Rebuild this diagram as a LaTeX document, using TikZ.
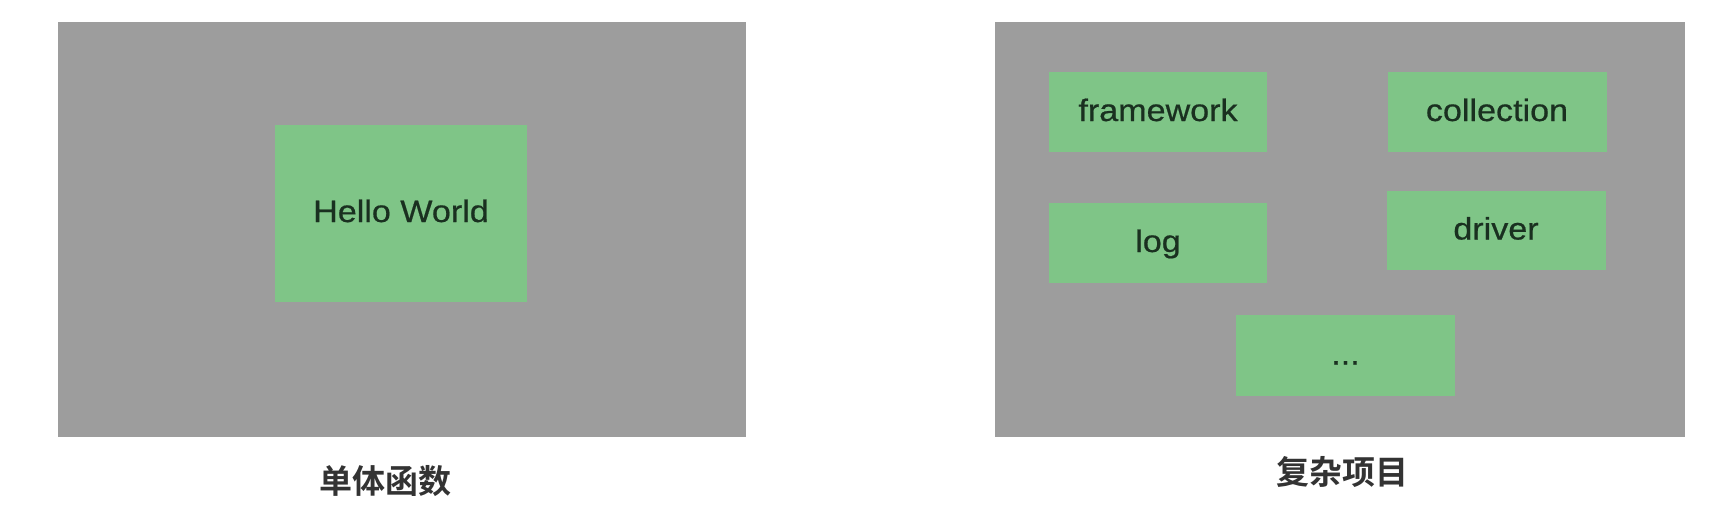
\documentclass[tikz,border=0pt]{standalone}
\usepackage{fontspec}
\newfontfamily\labfont[FakeStretch=1.1,FakeBold=0.6]{Liberation Sans}
\newfontfamily\cjkfont{Noto Sans CJK SC}[BoldFont=* Bold]
\definecolor{panelgray}{HTML}{9D9D9D}
\definecolor{boxgreen}{HTML}{7FC587}
\definecolor{labtext}{HTML}{1A3020}
\definecolor{captext}{HTML}{333333}
\tikzset{
  panel/.style={fill=panelgray, draw=none, rectangle, inner sep=0pt},
  gbox/.style={fill=boxgreen, draw=none, rectangle, inner sep=0pt,
    font=\labfont\fontsize{31}{31}\selectfont, text=labtext,
    text height=20pt, text depth=2pt},
  caption/.style={font=\cjkfont\bfseries\fontsize{33}{33}\selectfont, text=captext, inner sep=0pt}
}
\begin{document}
\begin{tikzpicture}[x=1pt,y=-1pt]
\useasboundingbox[fill=white] (0,0) rectangle (1735,520);
% panels
\node[panel, minimum width=688pt, minimum height=415pt] (left) at (401.5,229.5) {};
\node[panel, minimum width=690pt, minimum height=415pt] (right) at (1340,229.5) {};
% left content
\node[gbox, minimum width=252pt, minimum height=177pt] (hw) at (401,213) {Hello World};
% right content
\node[gbox, minimum width=218pt, minimum height=80pt] (fw) at (1158,112) {framework};
\node[gbox, minimum width=219pt, minimum height=80pt] (col) at (1497,112) {collection};
\node[gbox, minimum width=218pt, minimum height=80pt] (log) at (1158,243) {log};
\node[gbox, minimum width=219pt, minimum height=79pt] (drv) at (1496,230.5) {driver};
\node[gbox, minimum width=219pt, minimum height=81pt] (more) at (1345.5,355.5) {...};
% captions
\node[caption] (capl) at (385,481) {单体函数};
\node[caption] (capr) at (1342,472) {复杂项目};
\end{tikzpicture}
\end{document}
